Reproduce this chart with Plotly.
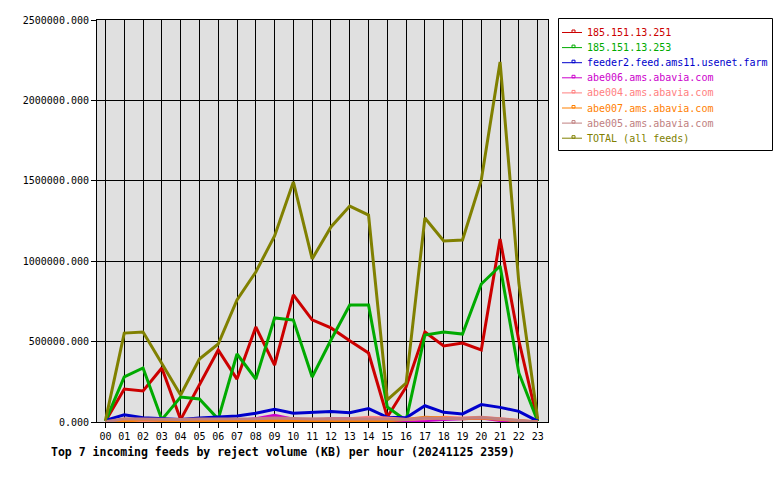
import plotly.graph_objects as go

hours = [f"{h:02d}" for h in range(24)]

red_251 = [5000, 205000, 193000, 336000, 15000, 230000, 448000, 267000, 591000, 354000, 790000, 635000,
           585000, 505000, 429000, 31000, 218000, 560000, 473000, 491000, 448000, 1138000, 505000, 5000]
green_253 = [5000, 280000, 336000, 15000, 155000, 143000, 18000, 423000, 267000, 647000, 634000, 280000,
             510000, 728000, 728000, 93000, 10000, 541000, 560000, 547000, 858000, 970000, 305000, 5000]
blue_feeder2 = [10000, 45000, 27000, 19000, 15000, 25000, 33000, 37000, 54000, 79000, 54000, 60000,
                66000, 58000, 83000, 29000, 27000, 101000, 60000, 50000, 108000, 91000, 66000, 5000]
magenta_abe006 = [3000, 5000, 5000, 3000, 3000, 5000, 8000, 10000, 20000, 42000, 18000, 8000,
                  20000, 20000, 15000, 5000, 2000, 10000, 15000, 20000, 25000, 10000, 5000, 0]
pink_abe004 = [0, 8000, 8000, 5000, 5000, 10000, 10000, 12000, 15000, 18000, 15000, 15000,
               18000, 20000, 30000, 25000, 15000, 20000, 30000, 25000, 30000, 20000, 10000, 0]
orange_abe007 = [0, 5000, 15000, 12000, 5000, 8000, 10000, 5000, 8000, 10000, 8000, 5000,
                 10000, 10000, 12000, 8000, 15000, 30000, 25000, 20000, 25000, 15000, 8000, 0]
rose_abe005 = [2000, 20000, 18000, 15000, 15000, 18000, 18000, 18000, 20000, 25000, 20000, 18000,
               20000, 20000, 22000, 18000, 15000, 25000, 22000, 22000, 28000, 20000, 12000, 0]
total_all = [10000, 553000, 560000, 367000, 168000, 392000, 485000, 759000, 933000, 1157000, 1493000, 1014000,
             1213000, 1343000, 1287000, 137000, 242000, 1269000, 1126000, 1132000, 1505000, 2239000, 864000, 20000]

series = [
    ("185.151.13.251", red_251, "#cc0000"),
    ("185.151.13.253", green_253, "#00aa00"),
    ("feeder2.feed.ams11.usenet.farm", blue_feeder2, "#0000cc"),
    ("abe006.ams.abavia.com", magenta_abe006, "#cc00cc"),
    ("abe004.ams.abavia.com", pink_abe004, "#ff8080"),
    ("abe007.ams.abavia.com", orange_abe007, "#ff8000"),
    ("abe005.ams.abavia.com", rose_abe005, "#c08080"),
    ("TOTAL (all feeds)", total_all, "#808000"),
]

x = list(range(24))
fig = go.Figure()
for name, vals, col in series:
    fig.add_trace(go.Scatter(x=x, y=vals, mode="lines", line=dict(color=col, width=3),
                             showlegend=False, name=name, hoverinfo="skip"))

font = "DejaVu Sans Mono, monospace"
L, R, T, B = 97, 548, 20, 422
W, H = 780, 480
pw, ph = R - L, B - T


def px(xp):
    return (xp - L) / pw


def py(yp):
    return (B - yp) / ph


shapes = []
annotations = []
# legend box
shapes.append(dict(type="rect", xref="paper", yref="paper", x0=px(558.5), x1=px(772.5),
                   y0=py(150.5), y1=py(18.5), line=dict(color="black", width=1), fillcolor="white",
                   layer="above"))
for i, (name, vals, col) in enumerate(series):
    yc = 32.5 + 15.1 * i
    shapes.append(dict(type="line", xref="paper", yref="paper", x0=px(562), x1=px(582),
                       y0=py(yc), y1=py(yc), line=dict(color=col, width=1), layer="above"))
    shapes.append(dict(type="rect", xref="paper", yref="paper", x0=px(572), x1=px(575),
                       y0=py(yc), y1=py(yc - 2.5), line=dict(color=col, width=1), layer="above"))
    annotations.append(dict(text=name, xref="paper", yref="paper", x=px(585), y=py(yc),
                            xanchor="left", yanchor="middle", showarrow=False,
                            font=dict(family=font, size=10, color=col)))

annotations.append(dict(text="<b>Top 7 incoming feeds by reject volume (KB) per hour (20241125 2359)</b>",
                        xref="paper", yref="paper", x=px(49), y=py(452),
                        xanchor="left", yanchor="middle", showarrow=False,
                        font=dict(family=font, size=11.5, color="black")))

fig.update_layout(
    width=W, height=H,
    margin=dict(l=L, r=W - R, t=T, b=H - B, autoexpand=False),
    paper_bgcolor="white", plot_bgcolor="#e0e0e0",
    font=dict(family=font, size=10, color="black"),
    showlegend=False,
    shapes=shapes,
    annotations=annotations,
)
fig.update_xaxes(range=[-0.45, 23.55], tickvals=x, ticktext=hours, showgrid=True,
                 gridcolor="black", gridwidth=1, showline=True, linecolor="black", linewidth=1,
                 mirror=True, ticks="outside", ticklen=5, tickcolor="black", zeroline=False,
                 tickfont=dict(family=font, size=10))
fig.update_yaxes(range=[0, 2500000], dtick=500000, tickformat=".3f", showgrid=True,
                 gridcolor="black", gridwidth=1, showline=True, linecolor="black", linewidth=1,
                 mirror=True, ticks="outside", ticklen=5, tickcolor="black", zeroline=False,
                 tickfont=dict(family=font, size=10))

fig.write_html("out.html")
